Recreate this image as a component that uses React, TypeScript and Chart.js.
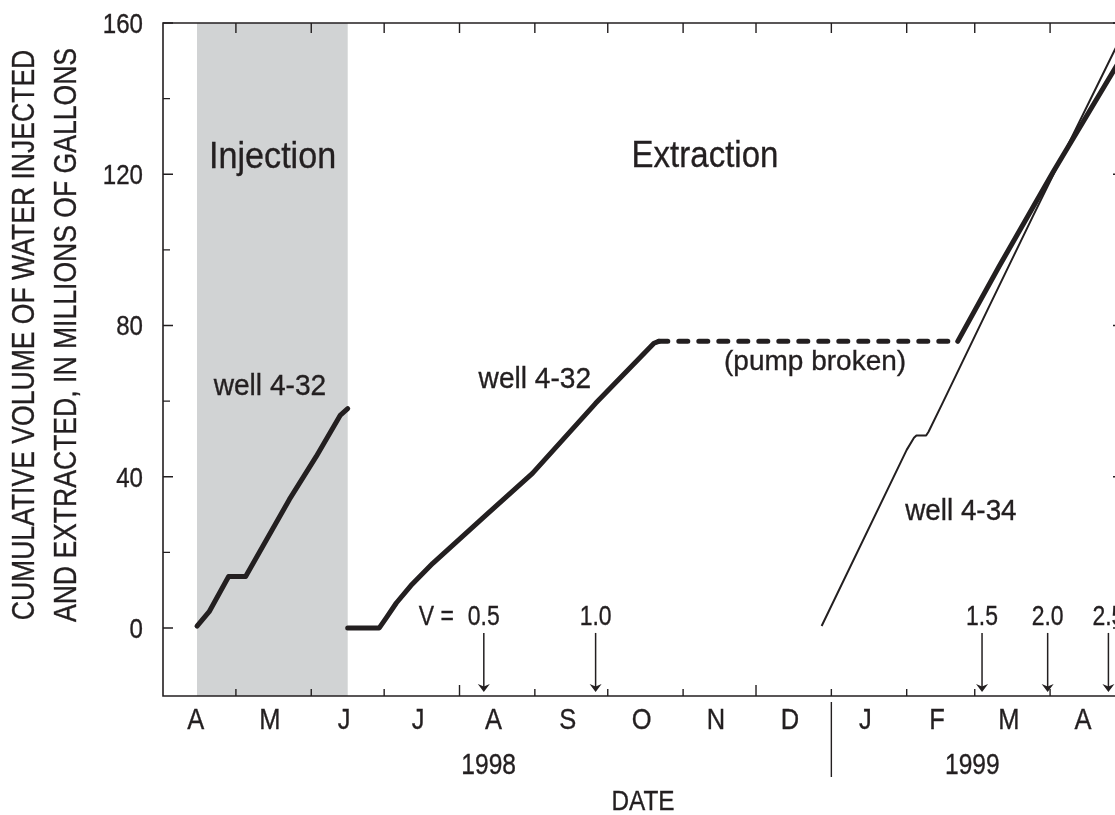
import { useEffect, useRef } from 'react';
import { Chart, registerables } from 'chart.js';

Chart.register(...registerables);

const INK = '#231f20';
const BAND = '#d1d3d4';
const FONT = "'Liberation Sans', Arial, sans-serif";

// Cumulative volume, millions of gallons
const injectionDates = ['1998-04-15', '1998-04-20', '1998-04-28', '1998-05-05', '1998-05-23', '1998-06-03', '1998-06-13', '1998-06-16'];
const injectionVolumes = [0.5, 4.3, 13.6, 13.6, 34, 45.3, 56.3, 58];

const extractionDates = ['1998-06-16', '1998-06-29', '1998-07-02', '1998-07-06', '1998-07-12', '1998-07-21', '1998-08-12', '1998-08-31', '1998-09-26', '1998-10-20', '1998-10-22'];
const extractionVolumes = [0, 0, 2.8, 6.6, 11.2, 17.1, 29.9, 40.9, 59.4, 75.3, 75.8];

const pumpBrokenDates = ['1998-10-22', '1999-02-22'];
const pumpBrokenVolumes = [75.8, 75.8];

const resumedDates = ['1999-02-22', '1999-03-11', '1999-04-02', '1999-04-28', '1999-05-01'];
const resumedVolumes = [75.8, 95.6, 120.3, 148.3, 151.5];

const well434Dates = ['1998-12-28', '1999-02-01', '1999-02-04', '1999-02-05', '1999-02-09', '1999-02-10', '1999-02-16', '1999-03-06', '1999-03-25', '1999-04-28', '1999-05-01'];
const well434Volumes = [0.5, 47.1, 50.3, 50.9, 50.9, 51.9, 59.8, 83.8, 109.0, 153.4, 157.6];

// Injection period (shaded)
const injectionPeriod = ['1998-04-15', '1998-06-16'];

// Pore volumes (V) passed, marked by arrows on the date axis
const poreVolumeDates = ['1998-08-11', '1998-09-26', '1999-03-04', '1999-03-31', '1999-04-25'];
const poreVolumeLabels = ['0.5', '1.0', '1.5', '2.0', '2.5'];

const monthLetters = ['A', 'M', 'J', 'J', 'A', 'S', 'O', 'N', 'D', 'J', 'F', 'M', 'A'];
const longTickDates = ['1998-08-01', '1998-12-01'];
const yearLabels = ['1998', '1999'];
const yearAnchors = ['1998-08-13', '1999-02-28'];
const yTickLabels = [0, 40, 80, 120, 160];

const X_START = '1998-04-01';
const X_END = '1999-05-01';
const Y_MIN = -18;
const Y_MAX = 160;

const W = 1140;
const H = 815;

const ORIGIN = Date.UTC(1998, 3, 1);
function day(s: string): number {
  const [y, m, d] = s.split('-').map(Number);
  return (Date.UTC(y, m - 1, d) - ORIGIN) / 86400000;
}
function dayOf(y: number, m: number, d: number): number {
  return (Date.UTC(y, m, d) - ORIGIN) / 86400000;
}
function pts(dates: string[], vals: number[]) {
  return dates.map((d, i) => ({ x: day(d), y: vals[i] }));
}

function drawText(
  ctx: CanvasRenderingContext2D,
  s: string,
  x: number,
  y: number,
  size: number,
  sx: number,
  align: CanvasTextAlign = 'center',
  rotate = 0
) {
  ctx.save();
  ctx.font = `${size}px ${FONT}`;
  ctx.fillStyle = INK;
  ctx.strokeStyle = INK;
  ctx.lineWidth = 0.35;
  ctx.translate(x, y);
  if (rotate) ctx.rotate(rotate);
  ctx.scale(sx, 1);
  ctx.textAlign = align;
  ctx.textBaseline = 'alphabetic';
  ctx.fillText(s, 0, 0);
  ctx.strokeText(s, 0, 0);
  ctx.restore();
}

const decorations = {
  id: 'decorations',
  beforeDatasetsDraw(chart: any) {
    const { ctx, chartArea, scales } = chart;
    const x = scales.x;
    const x0 = x.getPixelForValue(day(injectionPeriod[0]));
    const x1 = x.getPixelForValue(day(injectionPeriod[1]));
    ctx.save();
    ctx.fillStyle = BAND;
    ctx.fillRect(x0, chartArea.top, x1 - x0, chartArea.bottom - chartArea.top);
    ctx.restore();
  },
  afterDraw(chart: any) {
    const { ctx, chartArea, scales } = chart;
    const xs = scales.x;
    const ys = scales.y;
    const { left, right, top, bottom } = chartArea;

    ctx.save();
    ctx.strokeStyle = INK;
    ctx.lineWidth = 1.6;
    ctx.beginPath();
    ctx.rect(left, top, right - left, bottom - top);
    ctx.stroke();

    // month ticks, bottom and top
    ctx.lineWidth = 1.4;
    ctx.beginPath();
    const longTicks = longTickDates.map(day);
    for (let i = 1; i < monthLetters.length; i++) {
      const d = dayOf(1998, 3 + i, 1);
      const px = xs.getPixelForValue(d);
      const len = longTicks.includes(d) ? 11 : 7;
      ctx.moveTo(px, bottom);
      ctx.lineTo(px, bottom - len);
      ctx.moveTo(px, top);
      ctx.lineTo(px, top + 10);
    }
    // value ticks, left and right
    for (let v = 0; v <= Y_MAX; v += 20) {
      const py = ys.getPixelForValue(v);
      const len = v % 40 === 0 ? 10 : 7;
      ctx.moveTo(left, py);
      ctx.lineTo(left + len, py);
      ctx.moveTo(right, py);
      ctx.lineTo(right - len, py);
    }
    ctx.stroke();

    // year divider below the axis
    const jan = xs.getPixelForValue(dayOf(1999, 0, 1));
    ctx.beginPath();
    ctx.moveTo(jan, bottom + 6);
    ctx.lineTo(jan, bottom + 81);
    ctx.stroke();

    // value labels
    yTickLabels.forEach((v) => {
      drawText(ctx, String(v), left - 20, ys.getPixelForValue(v) + 10, 28, 0.86, 'right');
    });

    // month letters
    monthLetters.forEach((m, i) => {
      const a = dayOf(1998, 3 + i, 1);
      const b = dayOf(1998, 4 + i, 1);
      const px = xs.getPixelForValue((a + b) / 2 - 1.5);
      drawText(ctx, m, px, bottom + 32.5, 30, 0.85);
    });

    yearLabels.forEach((y, i) => {
      drawText(ctx, y, xs.getPixelForValue(day(yearAnchors[i])), bottom + 77.5, 30, 0.82);
    });

    drawText(ctx, 'DATE', (left + right) / 2, bottom + 114, 28, 0.87);

    // axis title, two lines
    const midY = 335;
    drawText(ctx, 'CUMULATIVE VOLUME OF WATER INJECTED', 33.5, midY, 32, 0.83, 'center', -Math.PI / 2);
    drawText(ctx, 'AND EXTRACTED, IN MILLIONS OF GALLONS', 75.5, midY, 32, 0.83, 'center', -Math.PI / 2);

    // pore volume arrows
    const y0 = ys.getPixelForValue(0);
    ctx.fillStyle = INK;
    ctx.lineWidth = 1.5;
    poreVolumeDates.forEach((d, i) => {
      const px = xs.getPixelForValue(day(d));
      const tip = bottom - 4;
      ctx.beginPath();
      ctx.moveTo(px, y0 + 5);
      ctx.lineTo(px, tip - 5);
      ctx.stroke();
      ctx.beginPath();
      ctx.moveTo(px, tip);
      ctx.lineTo(px - 6, tip - 8);
      ctx.lineTo(px, tip - 5.5);
      ctx.lineTo(px + 6, tip - 8);
      ctx.closePath();
      ctx.fill();
      drawText(ctx, poreVolumeLabels[i], px, y0 - 2.5, 28, 0.82);
      if (i === 0) drawText(ctx, 'V =', px - 30, y0 - 2.5, 28, 0.82, 'right');
    });

    // annotations
    const at = (d: number, v: number) => [xs.getPixelForValue(d), ys.getPixelForValue(v)];
    let p = at(45.1, 121.7);
    drawText(ctx, 'Injection', p[0], p[1], 37.5, 0.91);
    p = at(223, 122);
    drawText(ctx, 'Extraction', p[0], p[1], 37.5, 0.88);
    p = at(44, 61.6);
    drawText(ctx, 'well 4-32', p[0], p[1], 29, 0.97);
    p = at(153, 63.5);
    drawText(ctx, 'well 4-32', p[0], p[1], 29, 0.97);
    p = at(268.3, 68.3);
    drawText(ctx, '(pump broken)', p[0], p[1], 28, 1.0);
    p = at(328.3, 28.6);
    drawText(ctx, 'well 4-34', p[0], p[1], 29, 0.96);

    ctx.restore();
  },
};

export default function App() {
  const ref = useRef<HTMLCanvasElement>(null);

  useEffect(() => {
    const canvas = ref.current;
    if (!canvas) return;
    const thick = {
      borderColor: INK,
      borderWidth: 5,
      pointRadius: 0,
      fill: false,
      tension: 0,
      borderCapStyle: 'round' as const,
      borderJoinStyle: 'round' as const,
    };
    const chart = new Chart(canvas, {
      type: 'line',
      data: {
        datasets: [
          { ...thick, label: 'well 4-32 injection', data: pts(injectionDates, injectionVolumes) },
          { ...thick, label: 'well 4-32 extraction', data: pts(extractionDates, extractionVolumes) },
          {
            ...thick,
            label: 'pump broken',
            data: pts(pumpBrokenDates, pumpBrokenVolumes),
            borderDash: [9, 11],
          },
          { ...thick, label: 'well 4-32 resumed', data: pts(resumedDates, resumedVolumes) },
          {
            label: 'well 4-34',
            data: pts(well434Dates, well434Volumes),
            borderColor: INK,
            borderWidth: 2,
            pointRadius: 0,
            fill: false,
            tension: 0,
            borderJoinStyle: 'round' as const,
          },
        ],
      },
      options: {
        animation: false,
        responsive: false,
        devicePixelRatio: 1,
        layout: { padding: { top: 23, right: W - 1123, left: 0, bottom: 0 } },
        plugins: { legend: { display: false }, tooltip: { enabled: false } },
        scales: {
          x: {
            type: 'linear',
            min: day(X_START),
            max: day(X_END),
            ticks: { display: false },
            grid: { display: false },
            border: { display: false },
            afterFit: (s: any) => {
              s.height = H - 696;
            },
          },
          y: {
            type: 'linear',
            min: Y_MIN,
            max: Y_MAX,
            ticks: { display: false, stepSize: 20 },
            grid: { display: false },
            border: { display: false },
            afterFit: (s: any) => {
              s.width = 163;
            },
          },
        },
      },
      plugins: [decorations],
    });
    return () => chart.destroy();
  }, []);

  return (
    <div
      style={{
        position: 'fixed',
        left: 0,
        top: 0,
        width: 1115,
        height: 815,
        overflow: 'hidden',
        background: '#fff',
      }}
    >
      <canvas ref={ref} width={W} height={H} style={{ display: 'block', width: W, height: H }} />
    </div>
  );
}
